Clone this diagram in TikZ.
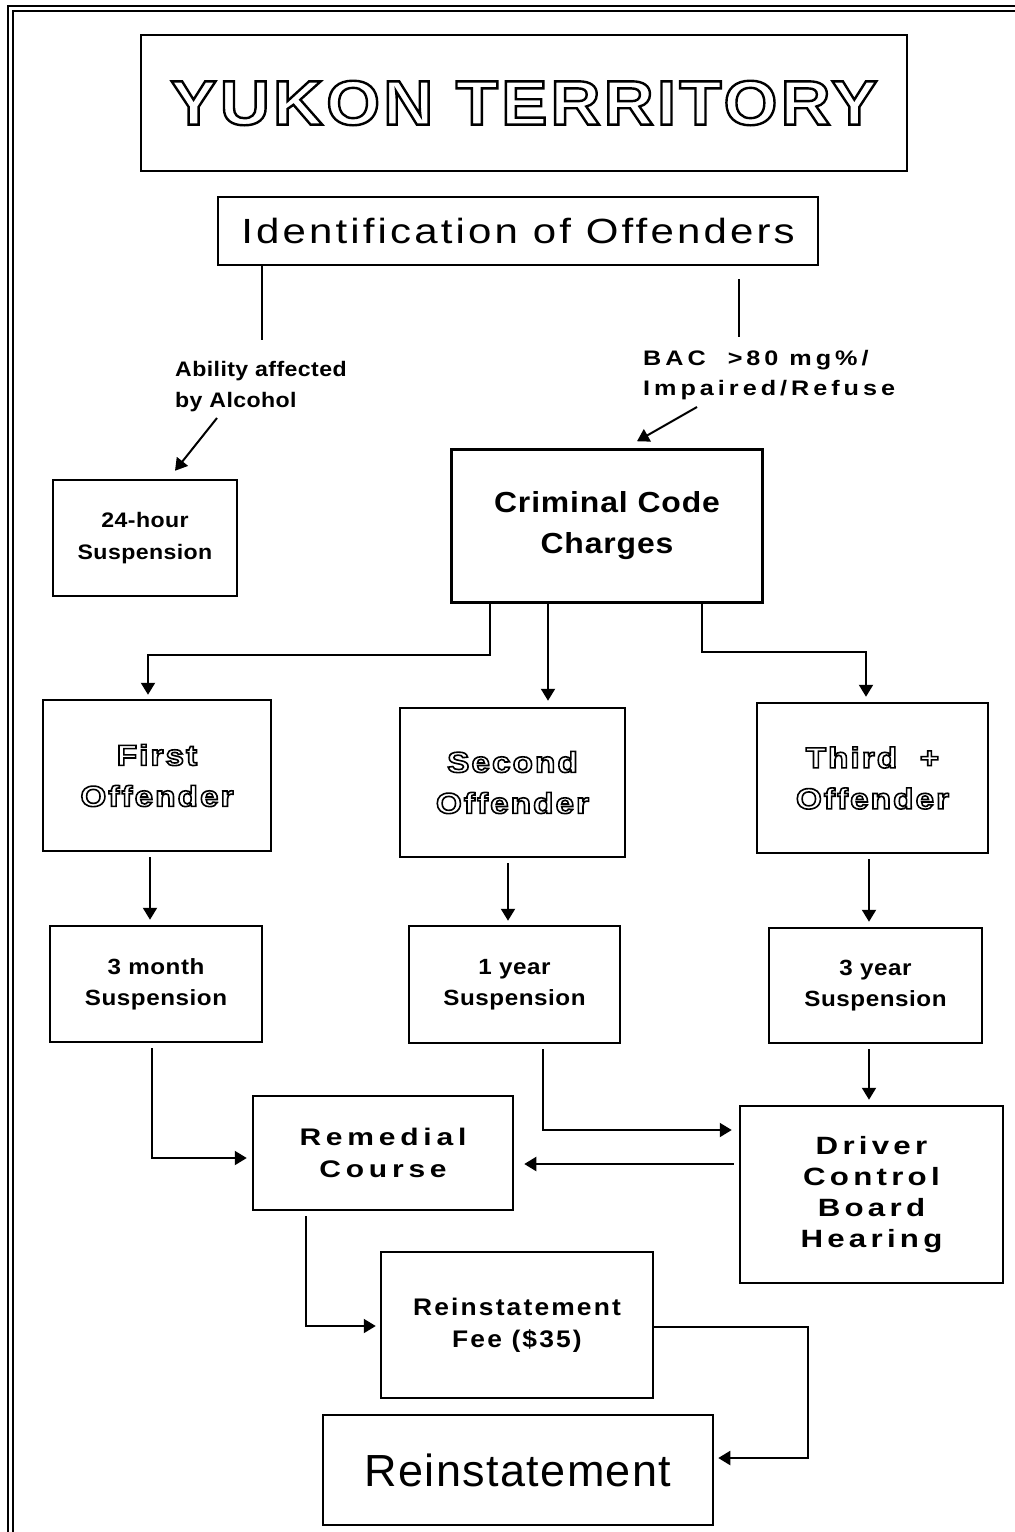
\documentclass[tikz,border=0pt]{standalone}
\usepackage{fontspec}
\setmainfont{Liberation Sans}
\usetikzlibrary{arrows.meta}
\newfontfamily\fTitle[FakeStretch=1.1,LetterSpace=5]{Liberation Sans}
\newfontfamily\fIdent[FakeStretch=1.2,LetterSpace=9]{Liberation Sans}
\newfontfamily\fSmall[FakeStretch=1.1,LetterSpace=2]{Liberation Sans}
\newfontfamily\fCcc[FakeStretch=1.1,LetterSpace=3]{Liberation Sans}
\newfontfamily\fSusp[FakeStretch=1.1,LetterSpace=2.5]{Liberation Sans}
\newfontfamily\fBac[FakeStretch=1.2,LetterSpace=19]{Liberation Sans}
\newfontfamily\fRem[FakeStretch=1.25,LetterSpace=20]{Liberation Sans}
\newfontfamily\fDcb[FakeStretch=1.25,LetterSpace=17]{Liberation Sans}
\newfontfamily\fOff[FakeStretch=1.15,LetterSpace=7]{Liberation Sans}
\newfontfamily\fFee[FakeStretch=1.1,LetterSpace=9]{Liberation Sans}
\newfontfamily\fBig[LetterSpace=3]{Liberation Sans}
% outlined (stroked, unfilled) text
\newcommand\outl[2]{\special{pdf:literal direct 1 Tr #1 w}#2\special{pdf:literal direct 0 Tr}}
\tikzset{
  box/.style={draw, line width=2.5pt, inner sep=0pt, align=center},
  lbl/.style={inner sep=0pt, align=left},
  ln/.style={line width=2pt},
  arr/.style={line width=2pt, -{Triangle[width=14pt,length=12pt]}},
  border/.style={line width=2pt}
}
\begin{document}
\begin{tikzpicture}[x=1pt,y=-1pt]
\useasboundingbox (0,0) rectangle (1015,1532);
% page border (double rule, top and left)
\draw[border] (8,1532) -- (8,6) -- (1015,6);
\draw[border] (13,1532) -- (13,11) -- (1015,11);

% nodes
\node[box, minimum width=766, minimum height=136,
      font=\fTitle\bfseries\fontsize{63}{70}\selectfont] (title) at (524,103)
      {\outl{2.4}{YUKON TERRITORY}};
\node[box, minimum width=600, minimum height=68,
      font=\fIdent\fontsize{35}{40}\selectfont] (ident) at (518,231)
      {Identification of Offenders};

\node[lbl, anchor=west, font=\fSmall\bfseries\fontsize{21}{31}\selectfont] (abl) at (175,387)
      {Ability affected\\by Alcohol};
\node[lbl, anchor=west, font=\fBac\bfseries\fontsize{21}{30}\selectfont] (bac) at (643,375)
      {BAC \ >80 mg\%/\\Impaired/Refuse};

\node[box, minimum width=184, minimum height=116,
      font=\fSmall\bfseries\fontsize{21}{32}\selectfont] (susp24) at (145,538)
      {24-hour\\Suspension};
\node[box, minimum width=311, minimum height=153,
      font=\fCcc\bfseries\fontsize{29}{41}\selectfont] (ccc) at (607,526)
      {Criminal Code\\Charges};

\node[box, minimum width=228, minimum height=151,
      font=\fOff\bfseries\fontsize{29}{41}\selectfont] (first) at (157,775.5)
      {\outl{1.6}{First}\\\outl{1.6}{Offender}};
\node[box, minimum width=225, minimum height=149,
      font=\fOff\bfseries\fontsize{29}{41}\selectfont] (second) at (512.5,782.5)
      {\outl{1.6}{Second}\\\outl{1.6}{Offender}};
\node[box, minimum width=231, minimum height=150,
      font=\fOff\bfseries\fontsize{29}{41}\selectfont] (third) at (872.5,778)
      {\outl{1.6}{Third \ +}\\\outl{1.6}{Offender}};

\node[box, minimum width=212, minimum height=116,
      font=\fSusp\bfseries\fontsize{22}{31}\selectfont] (m3) at (156,984)
      {3 month\\Suspension};
\node[box, minimum width=211, minimum height=117,
      font=\fSusp\bfseries\fontsize{22}{31}\selectfont] (y1) at (514.5,984.5)
      {1 year\\Suspension};
\node[box, minimum width=213, minimum height=115,
      font=\fSusp\bfseries\fontsize{22}{31}\selectfont] (y3) at (875.5,985.5)
      {3 year\\Suspension};

\node[box, minimum width=260, minimum height=114,
      font=\fRem\bfseries\fontsize{24}{32}\selectfont] (remedial) at (383,1153)
      {Remedial\\Course};
\node[box, minimum width=263, minimum height=177,
      font=\fDcb\bfseries\fontsize{25}{31}\selectfont] (dcb) at (871.5,1194.5)
      {Driver\\Control\\Board\\Hearing};
\node[box, minimum width=272, minimum height=146,
      font=\fFee\bfseries\fontsize{24}{32}\selectfont] (fee) at (517,1325)
      {Reinstatement\\Fee (\$35)};
\node[box, minimum width=390, minimum height=110,
      font=\fBig\fontsize{45}{50}\selectfont] (reinst) at (518,1470)
      {Reinstatement};

% free ends
\coordinate (c1) at (262,340);
\coordinate (c2) at (217,418);
\coordinate (c4) at (739,337);
\coordinate (c5) at (697,407);

% connectors
\draw[ln] ([xshift=-256pt]ident.south) -- (c1);
\draw[arr] (c2) -- ([xshift=30pt,yshift=8pt]susp24.north);
\draw[ln] ([xshift=221pt,yshift=-13pt]ident.south) -- (c4);
\draw[arr] (c5) -- ([xshift=30pt,yshift=7pt]ccc.north);

\draw[arr] ([xshift=-117pt]ccc.south) -- ++(0,51) -| ([xshift=-9pt,yshift=4pt]first.north);
\draw[arr] ([xshift=-59pt]ccc.south) -- ([xshift=35.5pt,yshift=6pt]second.north);
\draw[arr] ([xshift=95pt]ccc.south) -- ++(0,48) -| ([xshift=-6.5pt,yshift=5pt]third.north);

\draw[arr] ([xshift=-7pt,yshift=-5pt]first.south) -- ([xshift=-6pt,yshift=5pt]m3.north);
\draw[arr] ([xshift=-4.5pt,yshift=-5pt]second.south) -- ([xshift=-6.5pt,yshift=4pt]y1.north);
\draw[arr] ([xshift=-3.5pt,yshift=-5pt]third.south) -- ([xshift=-6.5pt,yshift=5pt]y3.north);

\draw[arr] ([xshift=-4pt,yshift=-5pt]m3.south) |- ([xshift=-5pt,yshift=-5pt]remedial.west);
\draw[arr] ([xshift=28.5pt,yshift=-5pt]y1.south) |- ([xshift=-7pt,yshift=64.5pt]dcb.west);
\draw[arr] ([xshift=-6.5pt,yshift=-5pt]y3.south) -- ([xshift=-2.5pt,yshift=5pt]dcb.north);
\draw[arr] ([xshift=-5pt,yshift=30.5pt]dcb.west) -- ([xshift=10pt,yshift=-11pt]remedial.east);
\draw[arr] ([xshift=-77pt,yshift=-5pt]remedial.south) |- ([xshift=-4pt,yshift=-1pt]fee.west);
\draw[arr] ([yshift=-2pt]fee.east) -- ++(154,0) |- ([xshift=4pt,yshift=12pt]reinst.east);
\end{tikzpicture}
\end{document}
